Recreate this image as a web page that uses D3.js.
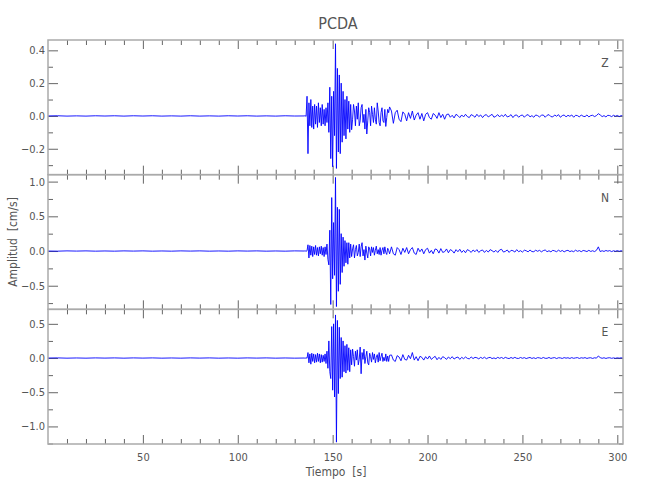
<!DOCTYPE html>
<html>
<head>
<meta charset="utf-8">
<script src="https://cdn.jsdelivr.net/npm/d3@7"></script>
<style>
  html, body { margin: 0; padding: 0; background: #fff; }
  svg { display: block; }
  text { font-family: "DejaVu Sans Condensed", "DejaVu Sans", sans-serif; fill: #555; }
</style>
</head>
<body>
<svg id="chart" width="650" height="500"></svg>
<script>
// ---------------- DATA ----------------
const title = "PCDA";
const xLabel = "Tiempo  [s]";
const yLabel = "Amplitud  [cm/s]";
const components = ["Z", "N", "E"];

const xDomain = [0, 303];
const xMajorTicks = [50, 100, 150, 200, 250, 300];
const xMinorTicks = [10,20,30,40,60,70,80,90,110,120,130,140,160,170,180,190,210,220,230,240,260,270,280,290];

// pre-event noise, t = 0..130 every 5 s
const preStart = 0, preStep = 5;
const preZ = [0,0.001,-0.001,0.0005,-0.001,0.001,-0.0005,0.001,-0.001,0.001,-0.0005,0.001,-0.001,0.0005,-0.001,0.001,-0.001,0.0005,-0.001,0.001,-0.0005,0.001,-0.001,0.0005,-0.001,0.001,-0.0005];
const preN = [0,-0.002,0.002,-0.001,0.002,-0.002,0.001,-0.002,0.002,-0.001,0.002,-0.002,0.001,-0.002,0.002,-0.001,0.002,-0.002,0.001,-0.002,0.002,-0.001,0.002,-0.002,0.001,-0.002,0.002];
const preE = [0,0.002,-0.002,0.001,-0.002,0.002,-0.001,0.002,-0.002,0.002,-0.001,0.002,-0.002,0.001,-0.002,0.002,-0.001,0.002,-0.002,0.001,-0.002,0.002,-0.001,0.002,-0.002,0.001,-0.002];

// strong motion, t = 135..180 every 0.5 s
const strongStart = 135, strongStep = 0.5;
const strongZ = [
  0,0.002,-0.003,0.12,-0.23,0.08,-0.06,0.1,-0.07,0.06,
  -0.08,0.07,-0.05,0.06,-0.07,0.08,-0.04,0.05,-0.06,0.07,
  -0.05,0.04,-0.06,0.05,-0.04,0.08,-0.1,0.175,-0.26,0.12,
  -0.31,0.15,-0.12,0.44,-0.32,0.29,-0.22,0.25,-0.23,0.2,
  -0.16,0.15,-0.12,0.1,-0.14,0.12,-0.08,0.09,-0.1,0.07,
  -0.084,-0.02,0.07,0.03,-0.06,0.06,-0.02,0.08,-0.06,-0.03,
  0.05,0.07,-0.04,0.01,-0.08,0.04,-0.11,-0.03,0.05,0.02,
  -0.06,0.06,0.01,-0.04,0.05,-0.02,-0.05,0.08,0.03,-0.04,
  -0.06,0.02,0.05,-0.03,-0.04,0.04,-0.064,-0.01,0.04,0.02,
  0.055
];
const strongN = [
  0,0.003,-0.004,0.005,0.09,-0.1,0.08,-0.06,0.07,-0.08,
  0.06,-0.05,0.08,-0.06,0.05,-0.07,0.06,-0.04,0.07,-0.06,
  0.05,-0.08,0.06,-0.05,0.1,-0.12,-0.2,0.3,-0.77,0.77,
  -0.4,0.41,-0.35,1.06,-0.8,0.63,-0.58,0.6,-0.48,0.25,
  -0.31,0.2,-0.22,0.15,-0.17,0.12,-0.19,0.12,-0.1,0.1,
  -0.08,0.03,0.09,-0.1,0.02,0.08,-0.07,-0.02,0.1,-0.08,
  0.06,0.12,-0.07,0.02,-0.13,0.07,-0.03,-0.1,0.06,0.03,
  -0.07,0.06,-0.02,0.05,-0.06,0.01,0.07,-0.04,0.02,-0.05,
  0.05,-0.06,0.01,0.05,-0.04,0.06,-0.02,-0.05,0.04,0.01,
  -0.04
];
const strongE = [
  0,-0.003,0.004,-0.003,0.08,-0.07,0.06,-0.09,0.07,-0.05,
  0.06,-0.07,0.05,-0.06,0.07,-0.05,0.06,-0.07,0.05,-0.06,
  0.04,-0.05,0.06,-0.08,0.1,-0.15,0.25,-0.2,-0.3,0.46,
  -0.47,0.5,-0.57,0.63,-1.23,0.55,-0.52,0.45,-0.3,0.3,
  -0.28,0.25,-0.2,0.18,-0.22,0.2,-0.18,0.15,-0.2,0.12,
  -0.1,0.13,0.02,-0.12,0.1,-0.03,0.12,-0.1,-0.02,0.16,
  -0.23,0.08,-0.02,0.13,-0.08,0.02,0.1,-0.07,-0.1,0.07,
  0.02,-0.06,0.08,-0.02,0.06,-0.07,0.01,0.05,-0.06,0.08,
  -0.04,0.02,0.07,-0.05,0.01,-0.04,0.06,-0.05,0.03,-0.05,
  0.04
];

// coda, t = 181..303 every 1 s
const codaStart = 181, codaStep = 1;
const codaZ = [
  0.03,-0.045,0.02,0.035,-0.02,-0.035,0.025,0.01,-0.03,0.02,
  -0.015,0.03,-0.025,0.005,0.02,-0.02,0.015,-0.03,0.01,0.02,
  -0.01,-0.02,0.015,0.005,-0.015,0.02,-0.01,0.01,-0.02,0.008,
  0.012,-0.008,0.004,-0.012,0.01,0.002,-0.01,0.006,-0.006,0.01,
  -0.004,-0.01,0.008,0.002,-0.008,0.01,-0.004,0.006,-0.01,0.004,
  0.008,-0.006,0.002,0.01,-0.008,-0.002,0.008,-0.006,0.006,-0.004,
  0.01,-0.006,-0.002,0.008,-0.01,0.004,0.006,-0.008,0.002,0.006,
  -0.008,0.004,0.008,-0.006,0.002,-0.008,0.006,0.002,-0.006,0.004,
  0.006,-0.008,0.004,0.008,-0.004,-0.006,0.006,-0.002,0.008,-0.008,
  0.002,0.006,-0.006,0.004,-0.002,0.006,-0.008,0.004,0.002,-0.006,
  0.006,-0.002,-0.004,0.006,-0.006,0.002,0.004,-0.004,0.002,0.014,
  0.006,-0.004,0.002,-0.006,0.004,0.002,-0.004,0.004,-0.002,0.003,
  -0.004,0.002,0
];
const codaN = [
  0.06,-0.04,-0.06,0.05,0.02,-0.05,0.04,-0.02,0.05,-0.04,
  0.02,0.05,-0.03,-0.05,0.04,-0.01,0.03,-0.04,0.02,0.04,
  -0.03,0.01,-0.04,0.03,0.02,-0.03,0.035,-0.02,-0.01,0.03,
  -0.025,0.02,0.005,-0.03,0.02,-0.01,0.025,-0.02,0.01,-0.025,
  0.02,0.005,-0.02,0.015,-0.01,0.02,-0.02,0.005,0.015,-0.02,
  0.01,-0.015,0.02,0.005,-0.015,0.01,-0.02,0.015,0.025,-0.015,
  -0.005,0.015,-0.02,0.01,0.005,-0.015,0.02,-0.01,0.005,-0.015,
  0.012,0.004,-0.012,0.015,-0.008,-0.01,0.012,-0.004,0.01,-0.012,
  0.006,0.015,-0.01,0.004,-0.012,0.01,0.002,-0.01,0.012,-0.006,
  0.008,-0.012,0.004,0.01,-0.008,0.002,-0.01,0.012,-0.004,0.006,
  -0.01,0.008,0.002,-0.008,0.01,-0.006,0.004,-0.008,0.01,0.06,
  -0.008,0.004,-0.006,0.008,-0.002,0.006,-0.008,0.004,-0.004,0.006,
  -0.004,0.004,-0.002
];
const codaE = [
  0.045,-0.03,-0.05,0.035,0.015,-0.04,0.05,-0.02,-0.03,0.04,
  -0.01,0.08,-0.03,0.02,-0.04,0.025,0.01,-0.03,0.02,-0.015,
  0.03,-0.02,0.005,0.025,-0.025,0.01,-0.02,0.02,0.005,-0.02,
  0.015,-0.01,0.02,-0.015,0.005,0.015,-0.02,0.01,-0.01,0.015,
  -0.005,-0.012,0.015,-0.008,0.01,0.004,-0.012,0.01,-0.006,0.012,
  -0.01,0.004,0.01,-0.008,0.002,-0.01,0.01,-0.004,0.008,-0.008,
  0.01,-0.002,-0.008,0.008,-0.006,0.01,-0.004,-0.006,0.008,-0.004,
  0.006,-0.008,0.002,0.008,-0.006,0.004,-0.008,0.006,0.002,-0.006,
  0.008,-0.004,-0.004,0.008,-0.006,0.002,0.006,-0.008,0.004,0.002,
  -0.006,0.006,-0.002,0.004,-0.006,0.006,-0.004,0.002,0.006,-0.006,
  0.004,-0.002,0.006,-0.006,0.002,0.004,-0.006,0.004,-0.002,0.03,
  0.006,-0.004,0.004,-0.006,0.002,0.004,-0.004,0.002,-0.004,0.003,
  -0.002,0.003,-0.001
];

// y axes per panel
const yDomainZ = [-0.358, 0.463], yMajorZ = [0.4, 0.2, 0.0, -0.2], yMinorZ = [0.3, 0.1, -0.1, -0.3];
const yDomainN = [-0.84, 1.10],   yMajorN = [1.0, 0.5, 0.0, -0.5], yMinorN = [0.75, 0.25, -0.25, -0.75];
const yDomainE = [-1.257, 0.712], yMajorE = [0.5, 0.0, -0.5, -1.0], yMinorE = [0.25, -0.25, -0.75, -1.25];

// ---------------- DRAW ----------------
function toSeries(start, step, vals) { return vals.map((v, i) => [start + i * step, v]); }
function buildTrace(pre, strong, coda) {
  return toSeries(preStart, preStep, pre)
    .concat(toSeries(strongStart, strongStep, strong))
    .concat(toSeries(codaStart, codaStep, coda));
}
const panels = [
  { name: components[0], data: buildTrace(preZ, strongZ, codaZ), dom: yDomainZ, major: yMajorZ, minor: yMinorZ },
  { name: components[1], data: buildTrace(preN, strongN, codaN), dom: yDomainN, major: yMajorN, minor: yMinorN },
  { name: components[2], data: buildTrace(preE, strongE, codaE), dom: yDomainE, major: yMajorE, minor: yMinorE }
];

const svg = d3.select("#chart");
const L = 48, R = 623, T = 40, B = 444;
const ph = (B - T) / 3;
const x = d3.scaleLinear().domain(xDomain).range([L, R]);
const frameColor = "#aaa", tickColor = "#666";

function styleAxis(g) {
  g.select(".domain").remove();
  g.selectAll(".tick line").attr("stroke", tickColor).attr("stroke-width", 1);
  g.selectAll(".tick text").style("font-size", "11px").attr("fill", "#555");
}

panels.forEach((p, i) => {
  const top = T + i * ph, bot = top + ph;
  const y = d3.scaleLinear().domain(p.dom).range([bot, top]);
  const g = svg.append("g");

  // x ticks top & bottom (inward)
  g.append("g").attr("transform", `translate(0,${top})`)
    .call(d3.axisTop(x).tickValues(xMajorTicks).tickSize(-9).tickFormat("")).call(styleAxis);
  g.append("g").attr("transform", `translate(0,${top})`)
    .call(d3.axisTop(x).tickValues(xMinorTicks).tickSize(-5).tickFormat("")).call(styleAxis);
  g.append("g").attr("transform", `translate(0,${bot})`)
    .call(d3.axisBottom(x).tickValues(xMajorTicks).tickSize(-9).tickPadding(9)
      .tickFormat(i === 2 ? d3.format("d") : "")).call(styleAxis);
  g.append("g").attr("transform", `translate(0,${bot})`)
    .call(d3.axisBottom(x).tickValues(xMinorTicks).tickSize(-5).tickFormat("")).call(styleAxis);

  // y ticks left & right (inward)
  const minorIn = p.minor.filter(v => v > p.dom[0] && v < p.dom[1]);
  g.append("g").attr("transform", `translate(${L},0)`)
    .call(d3.axisLeft(y).tickValues(p.major).tickSize(-10).tickPadding(3).tickFormat(d3.format(".1f"))).call(styleAxis);
  g.append("g").attr("transform", `translate(${L},0)`)
    .call(d3.axisLeft(y).tickValues(minorIn).tickSize(-5).tickFormat("")).call(styleAxis);
  g.append("g").attr("transform", `translate(${R},0)`)
    .call(d3.axisRight(y).tickValues(p.major).tickSize(-9).tickFormat("")).call(styleAxis);
  g.append("g").attr("transform", `translate(${R},0)`)
    .call(d3.axisRight(y).tickValues(minorIn).tickSize(-4).tickFormat("")).call(styleAxis);

  // trace
  const line = d3.line().x(d => x(d[0])).y(d => y(d[1]));
  g.append("path").datum(p.data)
    .attr("fill", "none").attr("stroke", "#0000ff").attr("stroke-width", 0.9)
    .attr("stroke-linejoin", "round")
    .attr("d", line);

  // frame
  g.append("rect").attr("x", L).attr("y", top).attr("width", R - L).attr("height", ph)
    .attr("fill", "none").attr("stroke", frameColor).attr("stroke-width", 1.5);

  // component label
  g.append("text").attr("x", 605).attr("y", top + 27).attr("text-anchor", "middle")
    .style("font-size", "12px").text(p.name);
});

svg.append("text").attr("x", 338).attr("y", 29).attr("text-anchor", "middle")
  .style("font-size", "16px").text(title);
svg.append("text").attr("x", 336).attr("y", 476).attr("text-anchor", "middle")
  .style("font-size", "12px").style("white-space", "pre").text(xLabel);
svg.append("text").attr("transform", "translate(17,242) rotate(-90)").attr("text-anchor", "middle")
  .style("font-size", "12px").style("white-space", "pre").text(yLabel);
</script>
</body>
</html>
